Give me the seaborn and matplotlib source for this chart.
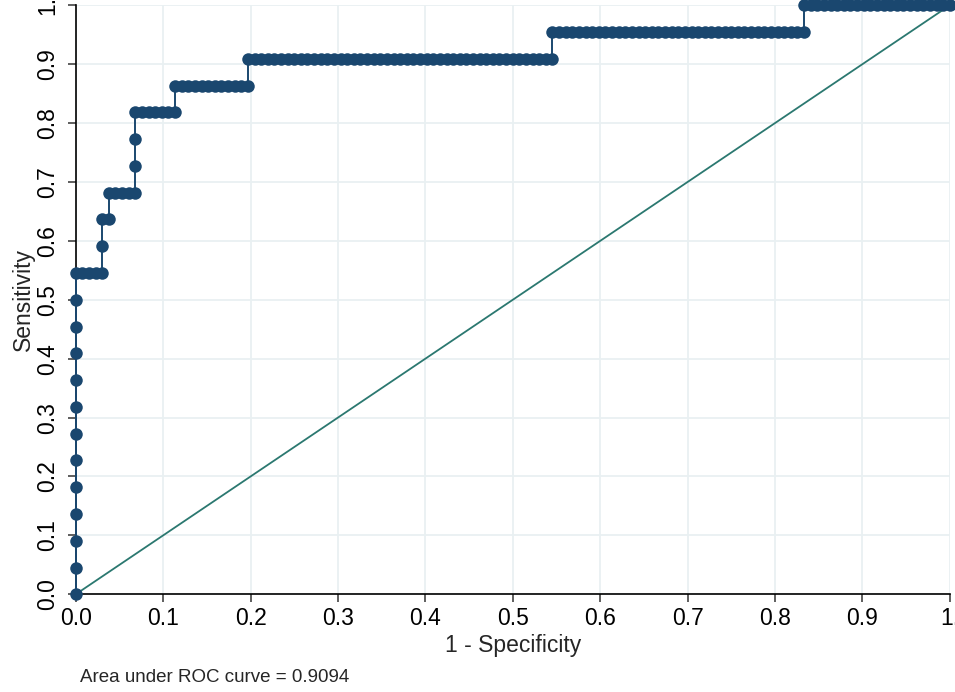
import numpy as np
import pandas as pd
import seaborn as sns
import matplotlib.pyplot as plt

# --- DATA: ROC from ordered classifications (P = positive, N = negative) ---
n_pos = 22
n_neg = 132
run_labels = ["P", "N", "P", "N", "P", "N", "P", "N", "P", "N", "P", "N", "P", "N", "P", "N"]
run_lengths = [12, 4, 2, 1, 1, 4, 3, 6, 1, 11, 1, 46, 1, 38, 1, 22]
auc_text = "Area under ROC curve = 0.9094"
tick_vals = [0.0, 0.1, 0.2, 0.3, 0.4, 0.5, 0.6, 0.7, 0.8, 0.9, 1.0]
tick_labels = ["0.0", "0.1", "0.2", "0.3", "0.4", "0.5", "0.6", "0.7", "0.8", "0.9", "1."]

seq = np.concatenate([[lab] * n for lab, n in zip(run_labels, run_lengths)])
tp = np.concatenate([[0], np.cumsum(seq == "P")])
fp = np.concatenate([[0], np.cumsum(seq == "N")])
roc = pd.DataFrame({"fpr": fp / n_neg, "tpr": tp / n_pos})
diag = pd.DataFrame({"x": [0.0, 1.0], "y": [0.0, 1.0]})

sns.set_theme(style="white")
plt.rcParams['font.family'] = ['Liberation Sans', 'DejaVu Sans']

fig = plt.figure(figsize=(9.55, 6.92), dpi=100)
ax = fig.add_axes([0.0793, 0.1412, 0.9152, 0.8511])

sns.lineplot(data=roc, x="fpr", y="tpr", sort=False, estimator=None, ax=ax,
             color="#1a476f", linewidth=1.4, marker="o", markersize=9,
             markeredgewidth=0, zorder=3, clip_on=False)
sns.lineplot(data=diag, x="x", y="y", ax=ax, color="#2b7870", linewidth=1.3, zorder=2)

ax.set_xlim(0, 1)
ax.set_ylim(0, 1)
ax.set_xticks(tick_vals)
ax.set_xticklabels(tick_labels, fontsize=16.5)
ax.set_yticks(tick_vals)
ax.set_yticklabels(tick_labels, fontsize=16.5, rotation=90, va="center")
ax.grid(True, color="#e9f0f2", linewidth=1.3)
ax.set_axisbelow(True)
for side in ["top", "right"]:
    ax.spines[side].set_visible(False)
for side in ["left", "bottom"]:
    ax.spines[side].set_color("black")
    ax.spines[side].set_linewidth(1.2)
ax.tick_params(axis="both", direction="out", length=6, width=1.1, color="#333333",
               labelcolor="black", bottom=True, left=True, pad=3)
ax.tick_params(axis="y", pad=6)
ax.set_xlabel("1 - Specificity", fontsize=16.5, labelpad=3)
ax.set_ylabel("Sensitivity", fontsize=16.5, labelpad=1)

fig.text(80 / 955, 1 - 678 / 692, auc_text, fontsize=13.5, va="center", ha="left")

fig.savefig("out.png", dpi=100)
